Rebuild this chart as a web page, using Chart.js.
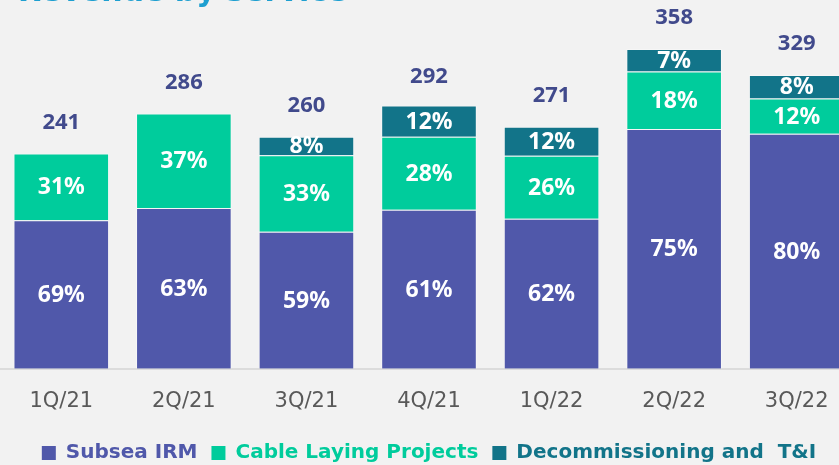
<!DOCTYPE html>
<html lang="en">
<head>
  <meta charset="UTF-8" />
  <title>Revenue by service</title>
  <script src="https://cdn.jsdelivr.net/npm/chart.js"></script>
  <style>
    html, body {
      margin: 0;
      padding: 0;
      background: #f2f2f2;
      overflow: hidden;
      width: 839px;
      height: 465px;
    }
    .title {
      position: absolute;
      top: -24px;
      left: 18px;
      font-family: "DejaVu Sans", sans-serif;
      font-weight: bold;
      font-size: 30px;
      line-height: 30px;
      color: #1e9fd0;
      white-space: nowrap;
      z-index: 2;
    }
    /* a bit taller and wider than the window so the legend sits low
       and the last bar runs off the right edge */
    .wrap {
      position: absolute;
      left: 0;
      top: 0;
      width: 858px;
      height: 473px;
    }
  </style>
</head>
<body>
  <div class="title">Revenue by service</div>
  <div class="wrap"><canvas id="revChart"></canvas></div>

  <script>
    // Quarterly revenue (totals) and share of each service line in %
    const quarters = ['1Q/21', '2Q/21', '3Q/21', '4Q/21', '1Q/22', '2Q/22', '3Q/22'];
    const totals = [241, 286, 260, 292, 271, 358, 329];
    const irmShare = [69, 63, 59, 61, 62, 75, 80];
    const cableShare = [31, 37, 33, 28, 26, 18, 12];
    const decomShare = [0, 0, 8, 12, 12, 7, 8];

    const seriesNames = ['Subsea IRM', 'Cable Laying Projects', 'Decommissioning and  T&I'];
    const seriesColors = ['#5058aa', '#00cc9c', '#127489'];
    const shares = [irmShare, cableShare, decomShare];

    // segment height = total * share
    const toValues = share => share.map((p, i) => totals[i] * p / 100);

    const labelPlugin = {
      id: 'barLabels',
      afterDatasetsDraw(chart) {
        const ctx = chart.ctx;
        ctx.save();
        ctx.textAlign = 'center';
        ctx.textBaseline = 'middle';

        // percentages inside segments
        ctx.font = 'bold 23px "Noto Sans"';
        ctx.fillStyle = '#ffffff';
        chart.data.datasets.forEach((ds, di) => {
          chart.getDatasetMeta(di).data.forEach((bar, i) => {
            const pct = shares[di][i];
            if (!pct) return;
            const { x, y, base } = bar.getProps(['x', 'y', 'base'], true);
            ctx.fillText(pct + '%', x, (y + base) / 2 + 1);
          });
        });

        // totals above the stacks
        ctx.font = 'bold 22px "Noto Sans"';
        ctx.fillStyle = '#414a8c';
        const yScale = chart.scales.y;
        chart.getDatasetMeta(0).data.forEach((bar, i) => {
          const top = yScale.getPixelForValue(totals[i]);
          ctx.fillText(String(totals[i]), bar.x, top - 31);
        });
        ctx.restore();
      }
    };

    new Chart(document.getElementById('revChart'), {
      type: 'bar',
      data: {
        labels: quarters,
        datasets: seriesNames.map((name, k) => ({
          label: name,
          data: toValues(shares[k]),
          backgroundColor: seriesColors[k],
          borderColor: 'rgba(255,255,255,0.35)',
          borderWidth: 1,
          categoryPercentage: 1,
          barPercentage: 0.78
        }))
      },
      options: {
        responsive: true,
        maintainAspectRatio: false,
        animation: false,
        layout: { padding: 0 },
        plugins: {
          tooltip: { enabled: false },
          legend: {
            position: 'bottom',
            labels: {
              boxWidth: 14,
              boxHeight: 14,
              padding: 14,
              font: { family: '"DejaVu Sans"', size: 20, weight: 'bold' },
              generateLabels(chart) {
                return chart.data.datasets.map((ds, i) => ({
                  text: ds.label,
                  fillStyle: ds.backgroundColor,
                  strokeStyle: ds.backgroundColor,
                  lineWidth: 0,
                  fontColor: ds.backgroundColor,
                  datasetIndex: i,
                  hidden: false
                }));
              }
            }
          }
        },
        scales: {
          x: {
            stacked: true,
            grid: { display: false, drawTicks: false },
            border: { display: true, color: '#dcdcdc', width: 2 },
            ticks: {
              color: '#595959',
              padding: 20,
              font: { family: '"DejaVu Sans"', size: 21 }
            },
            afterFit(scale) {
              scale.height -= 5;
            }
          },
          y: {
            stacked: true,
            display: false,
            min: 0,
            max: 413
          }
        }
      },
      plugins: [labelPlugin]
    });
  </script>
</body>
</html>
